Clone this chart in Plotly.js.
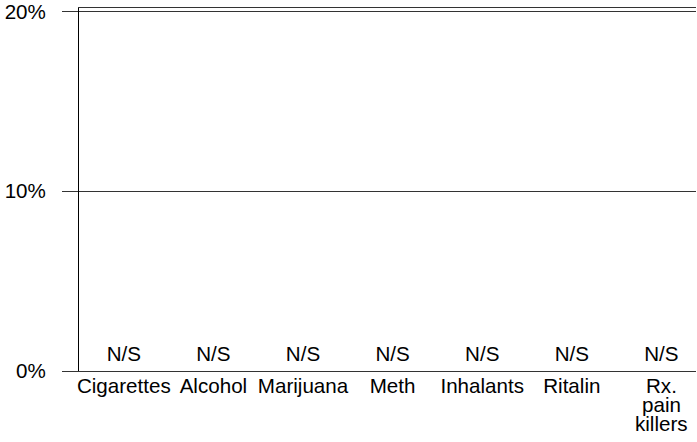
<!DOCTYPE html>
<html>
<head>
<meta charset="utf-8">
<script src="https://cdn.plot.ly/plotly-3.0.1.min.js"></script>
<style>html,body{margin:0;padding:0;background:#fff;}#chart{width:697px;height:442px;}</style>
</head>
<body>
<div id="chart"></div>
<script>
// Data
var categories = ['Cigarettes', 'Alcohol', 'Marijuana', 'Meth', 'Inhalants', 'Ritalin', 'Rx. pain killers'];
var labelLines = [['Cigarettes'], ['Alcohol'], ['Marijuana'], ['Meth'], ['Inhalants'], ['Ritalin'], ['Rx.', 'pain', 'killers']];
var values = [0, 0, 0, 0, 0, 0, 0];
var valueLabels = ['N/S', 'N/S', 'N/S', 'N/S', 'N/S', 'N/S', 'N/S'];
var yTickVals = [0, 10, 20];
var yTickText = ['0%', '10%', '20%'];

var FONT = 'Arial, "Liberation Sans", sans-serif';
var FS = 20.6;
var idx = categories.map(function (c, i) { return i; });

var traces = [
  {
    type: 'bar',
    x: idx,
    y: values,
    marker: { color: '#4f81bd' },
    hoverinfo: 'skip',
    showlegend: false
  },
  {
    type: 'scatter',
    mode: 'markers+text',
    x: idx,
    y: values,
    text: valueLabels,
    marker: { size: 6, opacity: 0 },
    textposition: 'top center',
    textfont: { family: FONT, size: FS, color: '#000' },
    cliponaxis: false,
    hoverinfo: 'skip',
    showlegend: false
  }
];

var annotations = [];
labelLines.forEach(function (lines, i) {
  for (var k = 1; k < lines.length; k++) {
    annotations.push({
      xref: 'x', yref: 'paper', x: i, y: 0,
      text: lines[k], showarrow: false,
      xanchor: 'center', yanchor: 'middle',
      yshift: -33 - (k - 1) * 19,
      font: { family: FONT, size: FS, color: '#000' }
    });
  }
});

var layout = {
  width: 697, height: 442,
  margin: { l: 79, r: 1, t: 8, b: 71 },
  paper_bgcolor: '#fff', plot_bgcolor: '#fff',
  font: { family: FONT, size: FS, color: '#000' },
  showlegend: false,
  xaxis: {
    range: [-0.5, 6.386],
    tickmode: 'array',
    tickvals: idx,
    ticktext: labelLines.map(function (l) { return l[0]; }),
    ticks: '',
    ticklabelstandoff: -4,
    showgrid: false,
    zeroline: false,
    showline: true, mirror: true, linecolor: '#333', linewidth: 1,
    tickfont: { family: FONT, size: FS, color: '#000' },
    fixedrange: true
  },
  yaxis: {
    range: [0, 20.19],
    tickmode: 'array',
    tickvals: yTickVals,
    ticktext: yTickText,
    ticks: 'outside', ticklen: 16, tickcolor: '#333', tickwidth: 1,
    ticklabelstandoff: 12,
    ticklabeloverflow: 'allow',
    showgrid: true, gridcolor: '#333', gridwidth: 1,
    zeroline: false,
    showline: true, linecolor: '#000', linewidth: 1,
    tickfont: { family: FONT, size: FS, color: '#000' },
    fixedrange: true
  },
  annotations: annotations
};

Plotly.newPlot('chart', traces, layout, { staticPlot: true, displayModeBar: false });
</script>
</body>
</html>
